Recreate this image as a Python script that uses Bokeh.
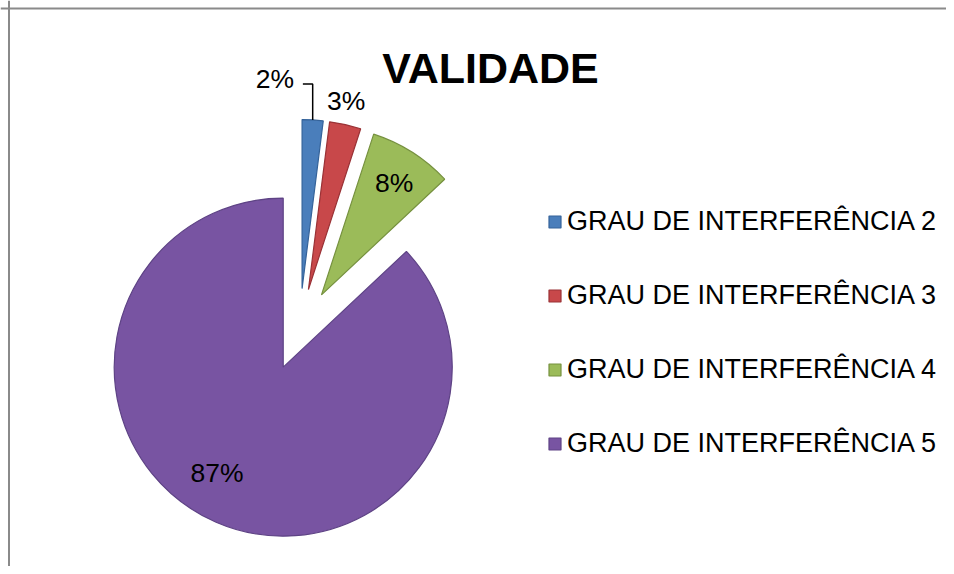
import numpy as np
from bokeh.plotting import figure
from bokeh.models import Range1d, Span, Legend, LegendItem, ColumnDataSource, Label
from bokeh.embed import file_html
from bokeh.resources import INLINE
from bokeh.core.properties import value

# ---- data ----
title_text = "VALIDADE"
categories = ["GRAU DE INTERFERÊNCIA 2", "GRAU DE INTERFERÊNCIA 3",
              "GRAU DE INTERFERÊNCIA 4", "GRAU DE INTERFERÊNCIA 5"]
percents = [2, 3, 8, 87]
labels = ["2%", "3%", "8%", "87%"]

# ---- style ----
colors = ["#4a7ebb", "#c8484a", "#9bbb59", "#7854a2"]
edge_colors = ["#35639a", "#9a3236", "#76913f", "#5e4385"]
W, H = 946, 566
cx, cy, R, explode = 299, 237, 169, 41
# (radius fraction, angle shift in degrees clockwise) for each label
label_place = [(1.25, -11.0), (1.14, -1.3), (0.79, 0.6), (0.74, 8.6)]
FONT = "Liberation Sans"

p = figure(width=W, height=H, output_backend="svg", toolbar_location=None,
           x_range=Range1d(0, W), y_range=Range1d(0, H), min_border=0)
p.axis.visible = False
p.grid.visible = False
p.outline_line_color = None
p.background_fill_color = "white"
p.border_fill_color = "white"

vals = np.array(percents, dtype=float)
frac = vals / vals.sum()
cum_end = np.cumsum(frac) * 360.0
cum_start = cum_end - frac * 360.0
mid = (cum_start + cum_end) / 2.0  # compass degrees, clockwise from top

xs = cx + explode * np.sin(np.radians(mid))
ys = cy + explode * np.cos(np.radians(mid))
start_math = np.radians(90.0 - cum_end)
end_math = np.radians(90.0 - cum_start)

src = ColumnDataSource(dict(x=xs, y=ys, start=start_math, end=end_math,
                            color=colors, edge=edge_colors, cat=categories))
r = p.wedge(x="x", y="y", radius=R, start_angle="start", end_angle="end",
            fill_color="color", line_color="edge", line_width=1.2, source=src)

# labels
lx, ly = [], []
for i in range(len(percents)):
    f, da = label_place[i]
    a = np.radians(mid[i] + da)
    lx.append(xs[i] + f * R * np.sin(a))
    ly.append(ys[i] + f * R * np.cos(a))
p.text(x=lx, y=ly, text=labels, text_align="center", text_baseline="middle",
       text_font=value(FONT), text_font_size="26.5px", text_color="black")

# leader line for the first (smallest) slice
a0 = np.radians(mid[0])
ox = xs[0] + R * np.sin(a0)
oy = ys[0] + R * np.cos(a0)
bend_y = ly[0] - 5
p.line(x=[ox, ox, lx[0] + 28], y=[oy, bend_y, bend_y], line_color="black", line_width=1.5)

# title
p.add_layout(Label(x=490, y=499, text=title_text, text_align="center",
                   text_baseline="alphabetic", text_font=FONT,
                   text_font_size="43px", text_font_style="bold", text_color="black"))

# chart area border (left and top edges visible)
p.add_layout(Span(location=8.5, dimension="height", line_color="#8a8a8a", line_width=2))
p.add_layout(Span(location=H - 8, dimension="width", line_color="#8a8a8a", line_width=2))

items = [LegendItem(label=categories[i], renderers=[r], index=i) for i in range(len(categories))]
legend = Legend(items=items, location=(547, 107), orientation="vertical",
                glyph_width=15, glyph_height=15, label_standoff=5, spacing=43,
                padding=0, margin=0, border_line_color=None, background_fill_alpha=0,
                label_text_font=FONT, label_text_font_size="27px", label_text_color="black")
p.add_layout(legend, "center")

open("out.html", "w").write(file_html(p, INLINE))
